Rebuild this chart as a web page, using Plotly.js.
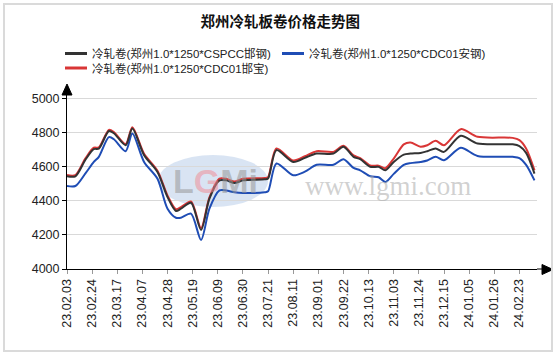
<!DOCTYPE html>
<html>
<head>
<meta charset="utf-8">
<script src="https://cdn.plot.ly/plotly-3.0.1.min.js"></script>
<style>
  html, body { margin: 0; padding: 0; background: #fff; }
  #wrap { position: relative; width: 557px; height: 355px; }
  #chart { width: 557px; height: 355px; }
  #frame { position: absolute; left: 3px; top: 3px; width: 546px; height: 345px;
           border: 2px solid #dadada; pointer-events: none; }
</style>
</head>
<body>
<div id="wrap"><div id="chart"></div><div id="frame"></div></div>
<script>
// ---- data (x = trading-day index, a label every 15 days) ----
const dateLabels = ["23.02.03","23.02.24","23.03.17","23.04.07","23.04.28","23.05.19","23.06.09",
  "23.06.30","23.07.21","23.08.11","23.09.01","23.09.22","23.10.13","23.11.03","23.11.24",
  "23.12.15","24.01.05","24.01.26","24.02.23"];

const dayIndex = [0,5,11,16,19,25,28,35,39,46,54,60,65,68,74,80,85,91,95,100,105,118,120,125,
  135,142,149,159,165,171,175,181,186,190,195,201,205,211,215,220,225,235,245,266,270,274,279];

// 冷轧卷(郑州1.0*1250*CSPCC邯钢)
const cspccHan = [4543,4543,4640,4702,4705,4808,4795,4725,4823,4667,4568,4421,4340,4353,4388,4229,
  4412,4519,4519,4503,4519,4525,4530,4696,4627,4651,4676,4676,4716,4657,4643,4598,4598,4578,4627,
  4670,4676,4680,4690,4706,4686,4780,4735,4730,4720,4680,4559];

// 冷轧卷(郑州1.0*1250*CDC01安钢)
const cdc01An = [4486,4486,4560,4627,4657,4772,4760,4690,4794,4627,4529,4353,4300,4300,4324,4170,
  4353,4460,4460,4449,4445,4449,4455,4618,4549,4570,4610,4610,4643,4592,4578,4543,4537,4510,4557,
  4610,4620,4627,4635,4657,4637,4710,4662,4657,4650,4610,4519];

// 冷轧卷(郑州1.0*1250*CDC01邯宝)
const cdc01HanBao = [4550,4550,4648,4710,4712,4815,4802,4732,4830,4675,4576,4430,4350,4362,4395,4240,
  4420,4530,4528,4512,4528,4533,4538,4706,4635,4660,4690,4686,4722,4665,4650,4606,4605,4590,4647,
  4730,4741,4716,4725,4751,4725,4819,4774,4768,4755,4706,4578];

const seriesNames = ["冷轧卷(郑州1.0*1250*CSPCC邯钢)","冷轧卷(郑州1.0*1250*CDC01安钢)","冷轧卷(郑州1.0*1250*CDC01邯宝)"];
const colors = ["#333333", "#1f4db5", "#d93636"];

// ---- geometry helpers (layout only) ----
const W = 557, H = 355;
const M = {l: 67, r: 20, t: 88, b: 86};
const PW = W - M.l - M.r, PH = H - M.t - M.b;
const px = x => (x - M.l) / PW;           // pixel -> paper x
const py = y => (H - M.b - y) / PH;       // pixel -> paper y

const font = 'Liberation Sans, Arial, "Noto Sans CJK SC", sans-serif';

function trace(y, name, color) {
  return {x: dayIndex, y: y, name: name, type: 'scatter', mode: 'lines',
    line: {color: color, width: 2, shape: 'spline', smoothing: 0.8},
    hoverinfo: 'x+y', showlegend: false};
}
const data = [
  trace(cdc01HanBao, seriesNames[2], colors[2]),
  trace(cdc01An, seriesNames[1], colors[1]),
  trace(cspccHan, seriesNames[0], colors[0])
];

const shapes = [
  // watermark ellipse
  {type: 'circle', xref: 'paper', yref: 'paper', layer: 'below',
   x0: px(158), x1: px(268), y0: py(207), y1: py(155),
   fillcolor: 'rgba(170,195,228,0.45)', line: {width: 0}},
  // x axis extension + arrow
  {type: 'line', xref: 'paper', yref: 'paper', x0: 1, x1: px(545), y0: 0, y1: 0,
   line: {color: '#000', width: 1}},
  {type: 'path', xref: 'paper', yref: 'paper',
   path: `M ${px(542)} ${py(264.5)} L ${px(553)} ${py(269.5)} L ${px(542)} ${py(274.5)} Z`,
   fillcolor: '#000', line: {color: '#000', width: 1}},
  // y axis arrow
  {type: 'path', xref: 'paper', yref: 'paper',
   path: `M ${px(62)} ${py(95)} L ${px(67)} ${py(84)} L ${px(72)} ${py(95)} Z`,
   fillcolor: '#000', line: {color: '#000', width: 1}},
  // legend samples
  {type: 'line', xref: 'paper', yref: 'paper', x0: px(65), x1: px(87), y0: py(53.5), y1: py(53.5),
   line: {color: colors[0], width: 3}},
  {type: 'line', xref: 'paper', yref: 'paper', x0: px(282), x1: px(304), y0: py(53.5), y1: py(53.5),
   line: {color: colors[1], width: 3}},
  {type: 'line', xref: 'paper', yref: 'paper', x0: px(65), x1: px(87), y0: py(68), y1: py(68),
   line: {color: colors[2], width: 3}}
];

const legendFont = {family: font, size: 11.5, color: '#222'};
const annotations = [
  {xref: 'paper', yref: 'paper', x: px(90), y: py(53.5), xanchor: 'left', yanchor: 'middle',
   text: seriesNames[0], showarrow: false, font: legendFont},
  {xref: 'paper', yref: 'paper', x: px(307), y: py(53.5), xanchor: 'left', yanchor: 'middle',
   text: seriesNames[1], showarrow: false, font: legendFont},
  {xref: 'paper', yref: 'paper', x: px(90), y: py(68), xanchor: 'left', yanchor: 'middle',
   text: seriesNames[2], showarrow: false, font: legendFont},
  // watermarks
  {xref: 'paper', yref: 'paper', x: px(215), y: py(181), xanchor: 'center', yanchor: 'middle',
   showarrow: false,
   text: '<b><span style="color:rgba(150,150,150,0.55)">L</span><span style="color:rgba(240,140,150,0.55)">G</span><span style="color:rgba(150,150,150,0.55)">Mi</span></b>',
   font: {family: 'Liberation Sans, Arial, sans-serif', size: 34}},
  {xref: 'paper', yref: 'paper', x: px(388), y: py(186), xanchor: 'center', yanchor: 'middle',
   showarrow: false, text: 'www.lgmi.com',
   font: {family: 'Liberation Serif, Times New Roman, serif', size: 27, color: 'rgba(170,170,170,0.55)'}}
];

const layout = {
  width: W, height: H,
  margin: M,
  paper_bgcolor: '#fff', plot_bgcolor: '#fff',
  title: {text: '<b>郑州冷轧板卷价格走势图</b>', x: 0.503, xref: 'container', xanchor: 'center',
          y: 1 - 21.5 / H, yref: 'container', yanchor: 'middle',
          font: {family: '"Noto Sans CJK SC", sans-serif', size: 14.5, color: '#111'}},
  xaxis: {range: [0, 280.5], tickmode: 'array',
          tickvals: dateLabels.map((_, i) => i * 15), ticktext: dateLabels,
          tickangle: -90, ticks: 'outside', ticklen: 4, tickcolor: '#999',
          showgrid: false, zeroline: false, showline: true, linecolor: '#000', linewidth: 1,
          tickfont: {family: font, size: 12.5, color: '#222'}, fixedrange: true},
  yaxis: {range: [4000, 5060], tickmode: 'array', tickvals: [4000,4200,4400,4600,4800,5000],
          ticks: 'outside', ticklen: 4, tickcolor: '#000', showgrid: true, gridcolor: '#d9d9d9',
          gridwidth: 1, zeroline: false, showline: true, linecolor: '#000', linewidth: 1,
          tickfont: {family: font, size: 12.5, color: '#222'}, fixedrange: true},
  shapes: shapes,
  annotations: annotations,
  showlegend: false
};

Plotly.newPlot('chart', data, layout, {displayModeBar: false, staticPlot: true});
</script>
</body>
</html>
